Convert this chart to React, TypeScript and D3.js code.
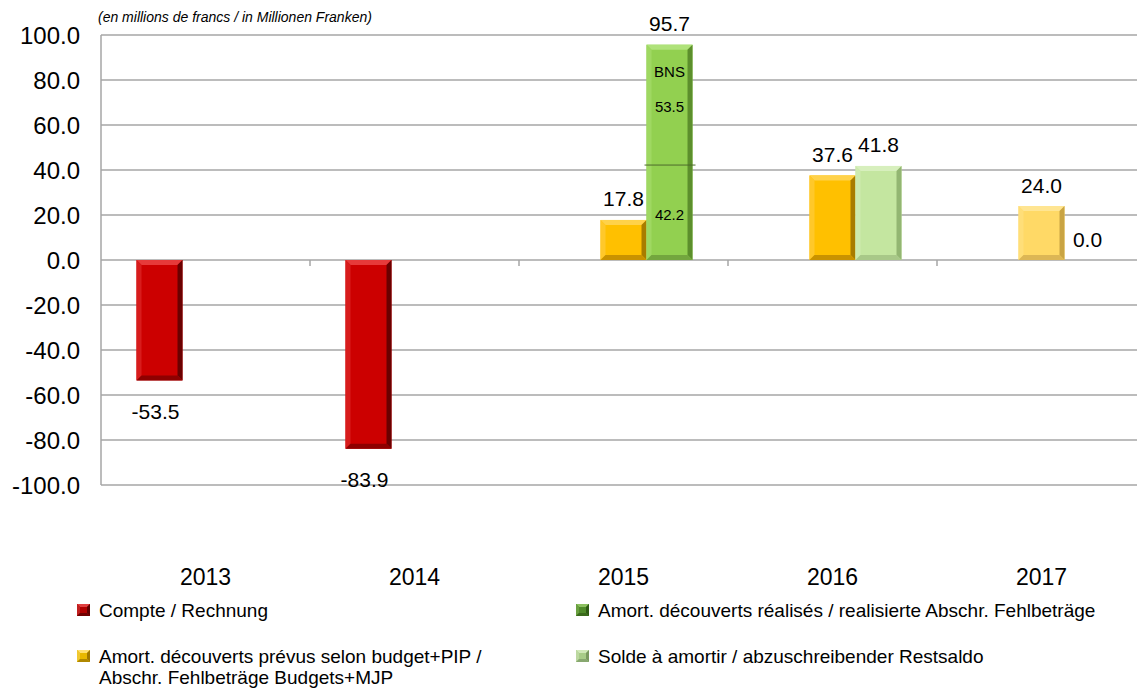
import React, { useEffect } from 'react';
import * as d3 from 'd3';

const years = ['2013', '2014', '2015', '2016', '2017'];
const compte = [-53.5, -83.9, null, null, null];
const budget = [null, null, 17.8, 37.6, 24.0];
const realisedBase = [null, null, 42.2, null, null];
const realisedBNS = [null, null, 53.5, null, null];
const solde = [null, null, null, 41.8, 0.0];
const yTicks = [-100, -80, -60, -40, -20, 0, 20, 40, 60, 80, 100];

const legendItems = [
  { key: 'compte', lines: ['Compte / Rechnung'] },
  { key: 'realised', lines: ['Amort. découverts réalisés / realisierte Abschr. Fehlbeträge'] },
  { key: 'budget', lines: ['Amort. découverts prévus selon budget+PIP /', 'Abschr. Fehlbeträge Budgets+MJP'] },
  { key: 'solde', lines: ['Solde à amortir / abzuschreibender Restsaldo'] },
];

type Shade = { main: string; top: string; left: string; right: string; bottom: string };
const shades: Record<string, Shade> = {
  compte: { main: '#cc0000', top: '#e63a3a', left: '#d81c1c', right: '#6a0000', bottom: '#8e0000' },
  budget: { main: '#ffc000', top: '#ffd24a', left: '#ffc82a', right: '#a87c00', bottom: '#c99200' },
  budgetLight: { main: '#ffd966', top: '#ffe592', left: '#ffde78', right: '#c9a443', bottom: '#dcb655' },
  realised: { main: '#92d050', top: '#afe27a', left: '#9fd862', right: '#5c8f2c', bottom: '#73a63e' },
  solde: { main: '#c4e6a0', top: '#d7efbd', left: '#cdeaae', right: '#93b672', bottom: '#a8c888' },
};
const legendShades: Record<string, Shade> = {
  compte: { main: '#b00000', top: '#e04040', left: '#c02020', right: '#600000', bottom: '#700000' },
  budget: { main: '#e8b800', top: '#ffe070', left: '#f0c830', right: '#a07800', bottom: '#b08800' },
  realised: { main: '#4f8a2a', top: '#8cc060', left: '#6aa040', right: '#2e5a14', bottom: '#3a6a1c' },
  solde: { main: '#a8cc88', top: '#d0e8b8', left: '#bcd8a0', right: '#7a9a60', bottom: '#88a870' },
};

const W = 1137;
const H = 688;
const font = 'Liberation Sans, Arial, sans-serif';

// bevelled bar like the office 3D preset
const Bevel: React.FC<{ x: number; y: number; w: number; h: number; s: Shade; b?: number }> = ({ x, y, w, h, s, b = 5 }) => {
  const bb = Math.min(b, w / 2, h / 2);
  const x2 = x + w;
  const y2 = y + h;
  return (
    <g>
      <rect x={x} y={y} width={w} height={h} fill={s.main} />
      <polygon points={`${x},${y} ${x2},${y} ${x2 - bb},${y + bb} ${x + bb},${y + bb}`} fill={s.top} />
      <polygon points={`${x},${y} ${x + bb},${y + bb} ${x + bb},${y2 - bb} ${x},${y2}`} fill={s.left} />
      <polygon points={`${x2},${y} ${x2},${y2} ${x2 - bb},${y2 - bb} ${x2 - bb},${y + bb}`} fill={s.right} />
      <polygon points={`${x},${y2} ${x2},${y2} ${x2 - bb},${y2 - bb} ${x + bb},${y2 - bb}`} fill={s.bottom} />
    </g>
  );
};

const App: React.FC = () => {
  useEffect(() => {
    document.body.style.margin = '0';
  }, []);

  const x0 = d3.scaleBand<string>().domain(years).range([101, 1146]).padding(0);
  const inner = 138;
  const x1 = d3.scaleBand<string>().domain(['compte', 'budget', 'realised']).range([0, inner]).padding(0);
  const y = d3.scaleLinear().domain([-100, 100]).range([485, 35]);
  const bw = x1.bandwidth();
  const gx = (i: number) => (x0(years[i]) as number) + (x0.bandwidth() - inner) / 2;
  const fmt = (v: number) => v.toFixed(1);

  const bars: JSX.Element[] = [];
  const labels: JSX.Element[] = [];

  const addBar = (i: number, slot: string, v: number, s: Shade, key: string) => {
    const bx = gx(i) + (x1(slot) as number);
    const top = y(Math.max(0, v));
    const h = Math.abs(y(v) - y(0));
    if (h > 0) bars.push(<Bevel key={key} x={bx} y={top} w={bw} h={h} s={s} />);
    const ly = v >= 0 ? y(v) - 21 : y(v) + 31;
    labels.push(
      <text key={key + 'l'} x={bx + bw / 2 - (v < 0 ? 4 : 0)} y={ly} textAnchor="middle" dominantBaseline="central" fontSize={21} fill="#000">
        {fmt(v)}
      </text>
    );
  };

  years.forEach((yr, i) => {
    if (compte[i] != null) addBar(i, 'compte', compte[i] as number, shades.compte, 'c' + yr);
    if (budget[i] != null) addBar(i, 'budget', budget[i] as number, i === 4 ? shades.budgetLight : shades.budget, 'b' + yr);
    if (solde[i] != null) addBar(i, 'realised', solde[i] as number, shades.solde, 's' + yr);
    if (realisedBase[i] != null) {
      const base = realisedBase[i] as number;
      const bns = realisedBNS[i] as number;
      const total = base + bns;
      const bx = gx(i) + (x1('realised') as number);
      bars.push(<Bevel key={'r' + yr} x={bx} y={y(total)} w={bw} h={y(0) - y(total)} s={shades.realised} />);
      bars.push(<line key={'rl' + yr} x1={bx - 2} x2={bx + bw + 3} y1={y(base)} y2={y(base)} stroke="#4d6b2a" strokeWidth={1} />);
      labels.push(
        <text key={'rt' + yr} x={bx + bw / 2} y={y(total) - 21} textAnchor="middle" dominantBaseline="central" fontSize={21}>{fmt(total)}</text>,
        <text key={'rb' + yr} x={bx + bw / 2} y={y(base) + 49} textAnchor="middle" dominantBaseline="central" fontSize={15}>{fmt(base)}</text>,
        <text key={'rn' + yr} x={bx + bw / 2} y={y(base + bns) + 62} textAnchor="middle" dominantBaseline="central" fontSize={15}>{fmt(bns)}</text>,
        <text key={'rs' + yr} x={bx + bw / 2} y={y(base + bns) + 27} textAnchor="middle" dominantBaseline="central" fontSize={15}>BNS</text>
      );
    }
  });

  return (
    <svg width={W} height={H} style={{ display: 'block', fontFamily: font }}>
      <rect width={W} height={H} fill="#fff" />
      <text x={98} y={22} fontSize={14} fontStyle="italic" fill="#000">(en millions de francs / in Millionen Franken)</text>
      {yTicks.map(t => (
        <g key={t}>
          <line x1={101} x2={W} y1={y(t)} y2={y(t)} stroke="#a6a6a6" strokeWidth={1.5} />
          <text x={80} y={y(t)} textAnchor="end" dominantBaseline="central" fontSize={24}>{fmt(t)}</text>
        </g>
      ))}
      <line x1={101} x2={101} y1={y(100)} y2={y(-100)} stroke="#a6a6a6" strokeWidth={1.5} />
      {years.slice(1).map(yr => (
        <line key={'tk' + yr} x1={x0(yr)} x2={x0(yr)} y1={y(0)} y2={y(0) + 6} stroke="#a6a6a6" strokeWidth={1.5} />
      ))}
      {bars}
      {labels}
      {years.map(yr => (
        <text key={'yr' + yr} x={(x0(yr) as number) + x0.bandwidth() / 2} y={577} textAnchor="middle" dominantBaseline="central" fontSize={23}>{yr}</text>
      ))}
      {legendItems.map((it, i) => {
        const lx = i % 2 === 0 ? 77 : 576;
        const ly = i < 2 ? 610 : 656;
        return (
          <g key={it.key}>
            <Bevel x={lx} y={ly - 6} w={13} h={12} s={legendShades[it.key]} b={3} />
            {it.lines.map((l, j) => (
              <text key={j} x={lx + 22} y={ly + j * 21} dominantBaseline="central" fontSize={19}>{l}</text>
            ))}
          </g>
        );
      })}
    </svg>
  );
};

export default App;
